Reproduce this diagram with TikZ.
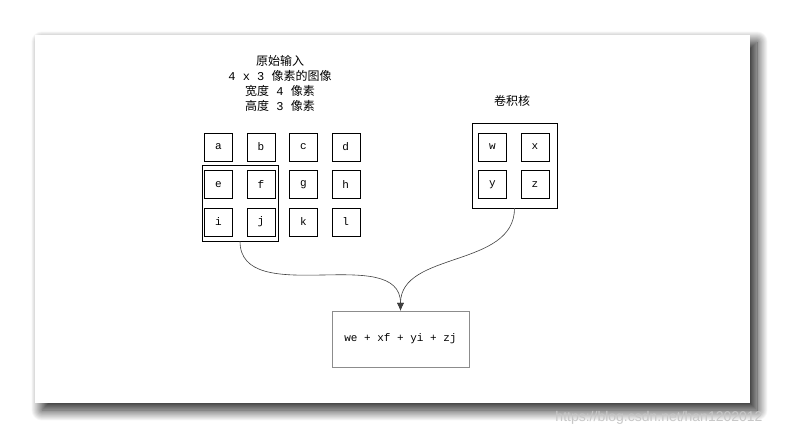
\documentclass[tikz,border=0pt]{standalone}
\usepackage{fontspec}
\setmainfont{Liberation Mono}
\setsansfont{Liberation Sans}
\newfontfamily\cjk{Noto Sans CJK SC}
\usetikzlibrary{arrows.meta,positioning,fit,shadows.blur}
\newcommand{\zh}[1]{{\cjk #1}}

\begin{document}
\begin{tikzpicture}[x=1pt,y=-1pt,>={Latex[length=8pt,width=7pt]},node distance=9pt and 14pt,
  every node/.style={font=\fontsize{11}{13}\selectfont},
  cell/.style={draw,minimum size=28pt,inner sep=0pt},
  group/.style={draw,inner sep=0pt},
  link/.style={->,draw=black!75,semithick}]
\useasboundingbox (0,0) rectangle (787,438);
% card with its shadow
\path[fill=white,blur shadow={shadow xshift=7pt,shadow yshift=-7pt,shadow blur radius=11pt,shadow blur steps=40,shadow opacity=90}] (35,35) rectangle (750,403);
% input image
\node[align=center,font=\fontsize{12}{15}\selectfont] (title) at (280,83)
  {\zh{原始输入}\\4 x 3 \zh{像素的图像}\\\zh{宽度} 4 \zh{像素}\\\zh{高度} 3 \zh{像素}};
\node[cell] (a) at (218.5,147) {a}; \node[cell,right=of a] (b) {b};
\node[cell,right=of b] (c) {c}; \node[cell,right=of c] (d) {d};
\node[cell,below=of a] (e) {e}; \node[cell,right=of e] (f) {f};
\node[cell,right=of f] (g) {g}; \node[cell,right=of g] (h) {h};
\node[cell,below=of e] (i) {i}; \node[cell,right=of i] (j) {j};
\node[cell,right=of j] (k) {k}; \node[cell,right=of k] (l) {l};
\node[group,fit={(202,165) (278,241)}] (patch) {};
% kernel
\node[font=\fontsize{12}{15}\selectfont] (ktitle) at (512,101) {\zh{卷积核}};
\node[cell] (w) at (492.5,147) {w}; \node[cell,right=of w] (x) {x};
\node[cell,below=of w] (y) {y}; \node[cell,right=of y] (z) {z};
\node[group,fit={(472,123) (557,208)}] (kernel) {};
% result
\node[draw=black!45,minimum width=137pt,minimum height=56pt] (sum) at (400.5,339) {we + xf + yi + zj};
\draw[link] (patch.south) to[out=-90,in=90] (sum.north);
\draw[link] (kernel.south) to[out=-90,in=90] (sum.north);
\node[font=\sffamily\fontsize{14}{16}\selectfont,text=black!22] (mark) at (659,418) {https://blog.csdn.net/han1202012};
\end{tikzpicture}
\end{document}
